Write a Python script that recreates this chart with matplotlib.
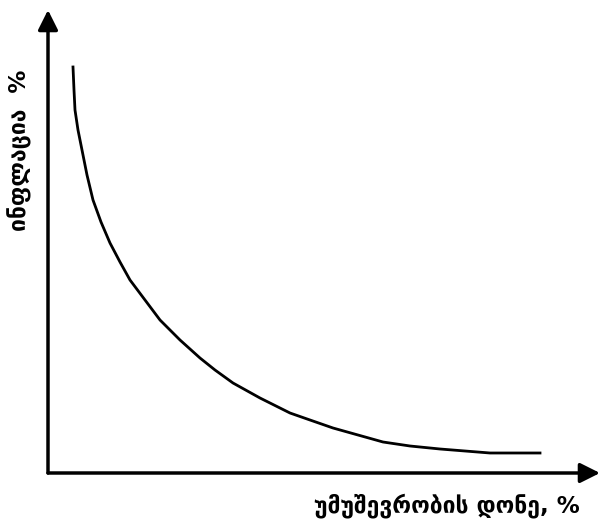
import matplotlib
matplotlib.use("Agg")
import matplotlib.pyplot as plt

# Curve (arbitrary units: unemployment vs inflation)
unemployment = [25, 26, 27, 30, 34, 39, 45, 53, 62, 72, 82, 97, 112, 132, 152,
                167, 185, 212, 242, 262, 285, 310, 335, 362, 392, 417, 442, 492]
inflation = [406, 383, 363, 343, 323, 298, 273, 251, 230, 211, 193, 173, 153, 133, 115,
             103, 90, 75, 60, 53, 45, 38, 31, 27, 24, 22, 20, 20]

x_label = "უმუშევრობის დონე, %"
y_label = "ინფლაცია  %"

plt.rcParams['font.family'] = ['DejaVu Sans']
W, H = 604, 522
fig = plt.figure(figsize=(W / 100, H / 100), dpi=100)
ax = fig.add_axes([48 / W, 49 / H, (600 - 48) / W, (473 - 10) / H])
ax.set_xlim(0, 552)
ax.set_ylim(0, 463)
ax.axis('off')

ax.plot(unemployment, inflation, color='black', lw=2.0, solid_joinstyle='round')

ax.annotate('', xy=(1, 0), xytext=(0, 0), xycoords='axes fraction',
            arrowprops=dict(arrowstyle='-|>', lw=2.5, color='black', mutation_scale=30,
                            shrinkA=0, shrinkB=0))
ax.annotate('', xy=(0, 1), xytext=(0, 0), xycoords='axes fraction',
            arrowprops=dict(arrowstyle='-|>', lw=2.5, color='black', mutation_scale=30,
                            shrinkA=0, shrinkB=0))

fig.text(580 / W, 1 - 506 / H, x_label, ha='right', va='center', fontsize=16.5,
         fontweight='bold')
fig.text(20 / W, 1 - 150 / H, y_label, ha='center', va='center', fontsize=16.5,
         fontweight='bold', rotation=90)

fig.savefig('out.png', dpi=100, facecolor='white')
